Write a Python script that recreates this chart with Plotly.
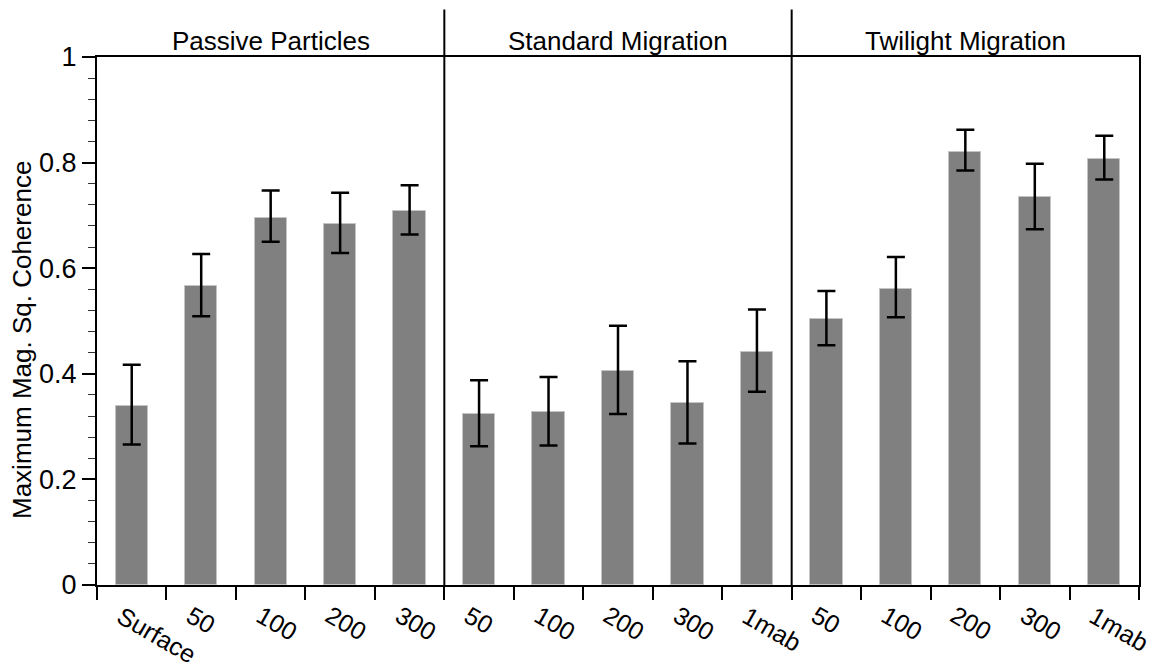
import plotly.graph_objects as go

# ---- data ----
groups = ["Passive Particles", "Standard Migration", "Twilight Migration"]
labels = ["Surface", "50", "100", "200", "300",
          "50", "100", "200", "300", "1mab",
          "50", "100", "200", "300", "1mab"]
values = [0.339, 0.566, 0.696, 0.683, 0.708,
          0.323, 0.327, 0.405, 0.344, 0.441,
          0.503, 0.561, 0.821, 0.734, 0.807]
err_upper = [0.417, 0.627, 0.747, 0.743, 0.757,
             0.388, 0.394, 0.491, 0.424, 0.522,
             0.557, 0.621, 0.862, 0.798, 0.851]
err_lower = [0.266, 0.509, 0.650, 0.629, 0.664,
             0.263, 0.264, 0.324, 0.268, 0.366,
             0.454, 0.507, 0.785, 0.674, 0.768]
y_ticks = [0, 0.2, 0.4, 0.6, 0.8, 1]
y_tick_text = ["0", "0.2", "0.4", "0.6", "0.8", "1"]
y_title = "Maximum Mag. Sq. Coherence"

FONT = "Liberation Sans, Arial, Helvetica, sans-serif"
n = len(labels)
per_group = n // len(groups)
xs = list(range(n))

fig = go.Figure()
fig.add_trace(go.Bar(
    x=xs, y=values, width=0.465,
    marker=dict(color="#808080", line=dict(color="#c4c4c4", width=1)),
    error_y=dict(type="data", symmetric=False,
                 array=[u - v for u, v in zip(err_upper, values)],
                 arrayminus=[v - l for v, l in zip(values, err_lower)],
                 color="black", thickness=2.5, width=9),
    showlegend=False,
))

# approximate Arial widths (em) for label width estimation
cw = {c: 0.556 for c in "0123456789abeu"}
cw.update({"S": 0.667, "r": 0.333, "f": 0.278, "c": 0.5, "m": 0.833})
tick_fs = 25

annotations = []
for i, lab in enumerate(labels):
    w = sum(cw.get(c, 0.556) for c in lab) * tick_fs
    annotations.append(dict(
        x=i, xref="x", y=0, yref="paper", text=lab, showarrow=False,
        textangle=30, xanchor="center", yanchor="middle",
        xshift=0.433 * w - 12, yshift=-(28 + 0.25 * w),
        font=dict(family=FONT, size=tick_fs, color="black"),
    ))
for g, name in enumerate(groups):
    annotations.append(dict(
        x=g * per_group + (per_group - 1) / 2, xref="x", y=1, yref="paper",
        text=name, showarrow=False, xanchor="center", yanchor="bottom",
        yshift=-1, font=dict(family=FONT, size=26, color="black"),
    ))
annotations.append(dict(
    x=0, xref="paper", y=0.464, yref="paper", text=y_title,
    showarrow=False, textangle=-90, xanchor="center", yanchor="middle",
    xshift=-75, font=dict(family=FONT, size=26, color="black"),
))

shapes = []
for g in range(1, len(groups)):
    xb = g * per_group - 0.5
    shapes.append(dict(type="line", xref="x", yref="paper",
                       x0=xb, x1=xb, y0=0, y1=1.09,
                       line=dict(color="black", width=2)))

fig.update_layout(
    width=1153, height=664,
    margin=dict(l=97, r=14, t=57, b=79),
    paper_bgcolor="white", plot_bgcolor="white",
    font=dict(family=FONT, size=26, color="black"),
    annotations=annotations, shapes=shapes,
    bargap=0,
)
fig.update_xaxes(
    range=[-0.5, n - 0.5], showgrid=False, zeroline=False,
    showline=True, linecolor="black", linewidth=2, mirror=True,
    tickmode="array", tickvals=[i - 0.5 for i in range(n + 1)],
    ticktext=[""] * (n + 1), ticks="outside", ticklen=13,
    tickwidth=1.5, tickcolor="black",
)
fig.update_yaxes(
    range=[0, 1], showgrid=False, zeroline=False,
    showline=True, linecolor="black", linewidth=2, mirror=True,
    tickmode="array", tickvals=y_ticks, ticktext=y_tick_text,
    ticks="outside", ticklen=13, tickwidth=1.5, tickcolor="black",
    tickfont=dict(family=FONT, size=27),
    minor=dict(tick0=0, dtick=0.04, ticks="outside", ticklen=7,
               tickwidth=1, tickcolor="#333333"),
)

fig.write_html("out.html")
